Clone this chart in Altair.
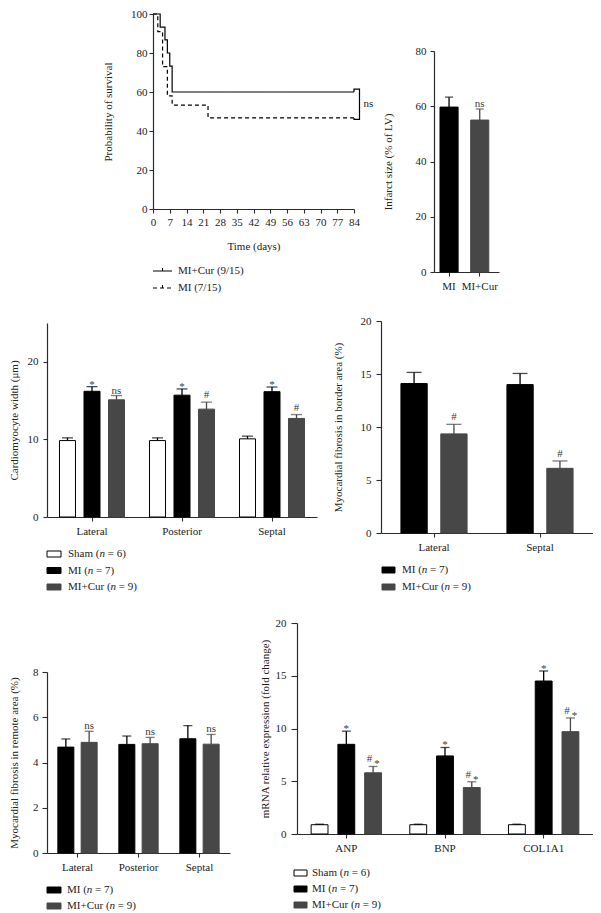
import altair as alt
import pandas as pd

FONT = "Liberation Serif"
TXT = "#222222"
AXC = "#2b2b2b"
MI_C = "#000000"
CUR_C = "#474747"
SHAM_C = "#ffffff"

# ---------------- data ----------------
# A: survival (Kaplan-Meier)
km_ticks = [0, 7, 14, 21, 28, 35, 42, 49, 56, 63, 70, 77, 84]
km_yticks = [0, 20, 40, 60, 80, 100]
km_groups = ["MI+Cur (9/15)", "MI (7/15)"]
cur_days = [0, 3, 5, 6, 7, 8, 84]
cur_surv = [100, 93.3, 86.7, 80.0, 73.3, 60.0, 60.0]
mi_days = [0, 2, 4, 6, 8, 23, 84]
mi_surv = [100, 91.0, 73.0, 58.0, 53.3, 46.7, 46.7]
km_test = "ns"

# B: infarct size
inf_groups = ["MI", "MI+Cur"]
inf_mean = [59.7, 55.0]
inf_err = [3.6, 4.0]
inf_note = ["", "ns"]
inf_yticks = [0, 20, 40, 60, 80]

# groups
grp_names = ["Sham", "MI", "MI+Cur"]
grp_n = [6, 7, 9]

# C: cardiomyocyte width
cw_sites = ["Lateral", "Posterior", "Septal"]
cw_sham = [9.85, 9.85, 10.07]
cw_sham_err = [0.35, 0.35, 0.35]
cw_mi = [16.2, 15.7, 16.15]
cw_mi_err = [0.6, 0.8, 0.6]
cw_cur = [15.1, 13.9, 12.7]
cw_cur_err = [0.55, 0.9, 0.5]
cw_note_sham = ["", "", ""]
cw_note_mi = ["*", "*", "*"]
cw_note_cur = ["ns", "#", "#"]
cw_yticks = [0, 5, 10, 15, 20, 25]

# D: fibrosis in border area
fb_sites = ["Lateral", "Septal"]
fb_mi = [14.1, 14.0]
fb_mi_err = [1.05, 1.05]
fb_cur = [9.35, 6.1]
fb_cur_err = [0.9, 0.7]
fb_note_mi = ["", ""]
fb_note_cur = ["#", "#"]
fb_yticks = [0, 5, 10, 15, 20]

# E: fibrosis in remote area
fr_sites = ["Lateral", "Posterior", "Septal"]
fr_mi = [4.68, 4.80, 5.05]
fr_mi_err = [0.36, 0.37, 0.58]
fr_cur = [4.89, 4.83, 4.81]
fr_cur_err = [0.49, 0.28, 0.43]
fr_note_mi = ["", "", ""]
fr_note_cur = ["ns", "ns", "ns"]
fr_yticks = [0, 2, 4, 6, 8]

# F: mRNA expression
rna_genes = ["ANP", "BNP", "COL1A1"]
rna_sham = [0.88, 0.88, 0.88]
rna_sham_err = [0.05, 0.05, 0.05]
rna_mi = [8.5, 7.4, 14.5]
rna_mi_err = [1.25, 0.8, 0.95]
rna_cur = [5.8, 4.4, 9.7]
rna_cur_err = [0.6, 0.55, 1.3]
rna_note_sham = ["", "", ""]
rna_note_mi = ["*", "*", "*"]
rna_note_cur = ["#*", "#*", "#*"]
rna_yticks = [0, 5, 10, 15, 20]

# ---------------- helpers ----------------
ONE = pd.DataFrame({"k": [0]})
FILL = {"Sham": SHAM_C, "MI": MI_C, "MI+Cur": CUR_C}
STROKE = {"Sham": "#000000", "MI": "#000000", "MI+Cur": CUR_C}
NOTE_C = "#3a3a3a"
TW = {'S': 556, 'h': 500, 'a': 444, 'm': 778, ' ': 250, '(': 333, ')': 333,
      '=': 564, '6': 500, '7': 500, '9': 500, 'M': 889, 'I': 333, '+': 564,
      'C': 667, 'u': 500, 'r': 333, 'n': 500}


def tw(s, size=11):
    return sum(TW.get(c, 500) for c in s) * size / 1000.0


def frame(left, right, top, bottom):
    return alt.Chart(ONE).mark_rect(opacity=0).encode(
        x=alt.value(left), x2=alt.value(right), y=alt.value(top), y2=alt.value(bottom))


def txt(s, x, y, italic=False, size=11):
    return alt.Chart(ONE).mark_text(
        text=s, align="left", baseline="middle", font=FONT, fontSize=size,
        fontStyle="italic" if italic else "normal", color=TXT
    ).encode(x=alt.value(x), y=alt.value(y))


def bar_legend(names, x0, y0, dy, sw=14, sh=6, tx=21):
    layers = []
    for i, nm in enumerate(names):
        n = grp_n[grp_names.index(nm)]
        y = y0 + i * dy
        layers.append(alt.Chart(ONE).mark_rect(fill=FILL[nm], stroke=STROKE[nm], strokeWidth=1).encode(
            x=alt.value(x0), x2=alt.value(x0 + sw), y=alt.value(y - sh / 2), y2=alt.value(y + sh / 2)))
        p1 = f"{nm} ("
        p3 = f"= {n})"
        xt = x0 + tx
        layers.append(txt(p1, xt, y))
        layers.append(txt("n", xt + tw(p1), y, italic=True))
        layers.append(txt(p3, xt + tw(p1) + tw("n") + tw(" "), y))
    return layers


def bar_df(cats, series):
    rows = []
    for g, means, errs, notes in series:
        for c, m, e, nt in zip(cats, means, errs, notes):
            rows.append(dict(cat=c, group=g, mean=m, hi=m + e, note=nt))
    return pd.DataFrame(rows)


def bar_layers(df, cats, groups, xscale, oscale, ymax, yrange, yvals, ytitle, title_x, capw,
               ytick=4, ylabpad=4, xlabpad=4):
    x_field = "cat" if oscale is not None else "group"
    X = alt.X(f"{x_field}:N", sort=cats, scale=xscale,
              axis=alt.Axis(title=None, labelAngle=0, labelPadding=xlabpad, tickSize=4))

    def enc(**kw):
        d = dict(x=X)
        if oscale is not None:
            d["xOffset"] = alt.XOffset("group:N", sort=groups, scale=oscale)
        d.update(kw)
        return d

    yaxis = alt.Axis(values=yvals, title=ytitle, titleX=title_x,
                     titleBaseline="middle", tickSize=ytick, labelPadding=ylabpad)
    Y = alt.Y("mean:Q", scale=alt.Scale(domain=[0, ymax], range=yrange, nice=False, zero=True), axis=yaxis)
    layers = []
    for g in groups:
        sub = alt.Chart(df[df.group == g])
        layers.append(sub.mark_bar(fill=FILL[g], stroke=STROKE[g], strokeWidth=1).encode(**enc(y=Y)))
        layers.append(sub.mark_rule(color=STROKE[g], strokeWidth=1.3).encode(**enc(y="hi:Q", y2="mean:Q")))
        layers.append(sub.mark_tick(color=STROKE[g], size=capw, thickness=1.3, orient="horizontal")
                      .encode(**enc(y="hi:Q")))
    specs = [("*", "*", 0, 1), ("#", "#", 0, -4), ("ns", "ns", 0, -2),
             ("#*", "#", -3.5, -4), ("#*", "*", 4, 1)]
    for key, sym, dx, dy in specs:
        sub = df[df.note == key]
        if len(sub):
            layers.append(alt.Chart(sub).mark_text(
                text=sym, baseline="alphabetic", align="center", dx=dx, dy=dy,
                font=FONT, fontSize=11, color=NOTE_C).encode(**enc(y="hi:Q")))
    return layers


# ---------------- panel A ----------------
A_OX = 106          # plot starts this far right of the shared view origin
A_W, A_H = 201, 195
km_df = pd.DataFrame({
    "day": cur_days + mi_days,
    "surv": cur_surv + mi_surv,
    "grp": [km_groups[0]] * len(cur_days) + [km_groups[1]] * len(mi_days),
})
XA = alt.X("day:Q", scale=alt.Scale(domain=[0, 84], range=[A_OX, A_OX + A_W], nice=False, zero=False),
           axis=alt.Axis(values=km_ticks, title="Time (days)", titleY=37, titleBaseline="middle",
                         labelPadding=3, tickSize=4, labelFlush=False))
YA = alt.Y("surv:Q", scale=alt.Scale(domain=[0, 100], nice=False),
           axis=alt.Axis(values=km_yticks, title="Probability of survival", titleX=-45,
                         titleBaseline="middle", labelPadding=2, tickSize=4, offset=-A_OX))
km_lines = alt.Chart(km_df).mark_line(interpolate="step-after", color="black", strokeWidth=1.2).encode(
    x=XA, y=YA, detail="grp:N",
    strokeDash=alt.StrokeDash("grp:N", scale=alt.Scale(domain=km_groups, range=[[1, 0], [4, 3]]), legend=None))
br_top = cur_surv[-1] + 1.5
br_bot = mi_surv[-1] - 0.7
br_x = cur_days[-1] + 2.3
br_df = pd.DataFrame({
    "day": [cur_days[-1], cur_days[-1], br_x, br_x, mi_days[-1], mi_days[-1]],
    "surv": [cur_surv[-1], br_top, br_top, br_bot, br_bot, mi_surv[-1]],
    "o": list(range(6)),
})
km_bracket = alt.Chart(br_df).mark_line(color="black", strokeWidth=1.2).encode(
    x=XA, y=YA, order="o:Q")
ns_df = pd.DataFrame({"day": [br_x], "surv": [(br_top + br_bot) / 2]})
km_ns = alt.Chart(ns_df).mark_text(text=km_test, align="left", baseline="middle", dx=4,
                                   font=FONT, fontSize=11, color=TXT).encode(x=XA, y=YA)
A_layers = [km_lines, km_bracket, km_ns, frame(-39, 331, -6, 293)]
for i, lab in enumerate(km_groups):
    ly = 257 + 17 * i
    seg = alt.Chart(ONE).mark_rule(color="black", strokeWidth=1.2,
                                   strokeDash=[1, 0] if i == 0 else [4, 3]).encode(
        x=alt.value(A_OX), x2=alt.value(A_OX + 19), y=alt.value(ly))
    tick = alt.Chart(ONE).mark_rule(color="black", strokeWidth=1).encode(
        x=alt.value(A_OX + 9.5), y=alt.value(ly - 3), y2=alt.value(ly))
    A_layers += [seg, tick, txt(lab, A_OX + 25, ly)]
panelA = alt.layer(*A_layers).properties(width=A_OX + A_W, height=A_H)

# ---------------- panel B ----------------
B_W, B_H, B_TOP = 65, 258, 37
dfB = pd.DataFrame({"cat": inf_groups, "group": inf_groups, "mean": inf_mean,
                    "hi": [m + e for m, e in zip(inf_mean, inf_err)], "note": inf_note})
B_layers = bar_layers(
    dfB, inf_groups, inf_groups,
    alt.Scale(domain=inf_groups, paddingInner=0.41, paddingOuter=0.264, align=0.37),
    None, 80, [B_H, B_TOP], inf_yticks, "Infarct size (% of LV)", -46, 8) + [frame(-56, 159, -6, 293)]
panelB = alt.layer(*B_layers).properties(width=B_W, height=B_H)

# ---------------- panel C ----------------
C_W, C_H, C_TOP = 270, 196, 2
dfC = bar_df(cw_sites, [("Sham", cw_sham, cw_sham_err, cw_note_sham),
                        ("MI", cw_mi, cw_mi_err, cw_note_mi),
                        ("MI+Cur", cw_cur, cw_cur_err, cw_note_cur)])
C_layers = bar_layers(
    dfC, cw_sites, grp_names,
    alt.Scale(domain=cw_sites, paddingInner=0, paddingOuter=0),
    alt.Scale(domain=grp_names, paddingInner=0.347, paddingOuter=0.51),
    25, [C_H, C_TOP], cw_yticks, "Cardiomyocyte width (\u03bcm)", -33, 11, ylabpad=5
) + [frame(-39, 281, -14, 285)] + bar_legend(grp_names, 0, 233, 16.5)
panelC = alt.layer(*C_layers).properties(width=C_W, height=C_H)

# ---------------- panel D ----------------
D_W, D_H = 212, 212
dfD = bar_df(fb_sites, [("MI", fb_mi, fb_mi_err, fb_note_mi),
                        ("MI+Cur", fb_cur, fb_cur_err, fb_note_cur)])
D_layers = bar_layers(
    dfD, fb_sites, ["MI", "MI+Cur"],
    alt.Scale(domain=fb_sites, paddingInner=0, paddingOuter=0),
    alt.Scale(domain=["MI", "MI+Cur"], paddingInner=0.341, paddingOuter=0.5),
    20, [D_H, 0], fb_yticks, "Myocardial fibrosis in border area (%)", -43, 15, ytick=5, ylabpad=5
) + [frame(-53, 212, -14, 285)] + bar_legend(["MI", "MI+Cur"], 1, 249, 17, sw=13, tx=20)
panelD = alt.layer(*D_layers).properties(width=D_W, height=D_H)

# ---------------- panel E ----------------
E_W, E_H, E_TOP = 183, 230, 49
dfE = bar_df(fr_sites, [("MI", fr_mi, fr_mi_err, fr_note_mi),
                        ("MI+Cur", fr_cur, fr_cur_err, fr_note_cur)])
E_layers = bar_layers(
    dfE, fr_sites, ["MI", "MI+Cur"],
    alt.Scale(domain=fr_sites, paddingInner=0, paddingOuter=0),
    alt.Scale(domain=["MI", "MI+Cur"], paddingInner=0.313, paddingOuter=0.466),
    8, [E_H, E_TOP], fr_yticks, "Myocardial fibrosis in remote area (%)", -33, 9, ytick=5, ylabpad=4
) + [frame(-39, 201, -17, 290)] + bar_legend(["MI", "MI+Cur"], 0, 267, 16, tx=20)
panelE = alt.layer(*E_layers).properties(width=E_W, height=E_H)

# ---------------- panel F ----------------
F_W, F_H = 296, 211
dfF = bar_df(rna_genes, [("Sham", rna_sham, rna_sham_err, rna_note_sham),
                         ("MI", rna_mi, rna_mi_err, rna_note_mi),
                         ("MI+Cur", rna_cur, rna_cur_err, rna_note_cur)])
F_layers = bar_layers(
    dfF, rna_genes, grp_names,
    alt.Scale(domain=rna_genes, paddingInner=0, paddingOuter=0),
    alt.Scale(domain=grp_names, paddingInner=0.37, paddingOuter=0.528),
    20, [F_H, 0], rna_yticks, "mRNA relative expression (fold change)", -32, 9, ytick=6, ylabpad=5
) + [frame(-49, 296, -17, 290)] + bar_legend(grp_names, -3, 250, 16, sw=13, tx=18)
panelF = alt.layer(*F_layers).properties(width=F_W, height=F_H)

IND = dict(x="independent", y="independent", xOffset="independent")
row1 = alt.hconcat(panelA, panelB, spacing=0).resolve_scale(**IND)
row2 = alt.hconcat(panelC, panelD, spacing=0).resolve_scale(**IND)
row3 = alt.hconcat(panelE, panelF, spacing=0).resolve_scale(**IND)

chart = alt.vconcat(row1, row2, row3, spacing=0).resolve_scale(**IND).properties(padding=0).configure_view(
    stroke=None
).configure_axis(
    labelFont=FONT, titleFont=FONT, labelFontSize=11, titleFontSize=11,
    titleFontWeight="normal", labelColor=TXT, titleColor=TXT, labelOverlap=False,
    domainColor=AXC, tickColor=AXC, domainWidth=1.2, tickWidth=1.1, grid=False
).configure_concat(spacing=0)

chart.save("out.html", embed_options={"renderer": "svg", "actions": False})
